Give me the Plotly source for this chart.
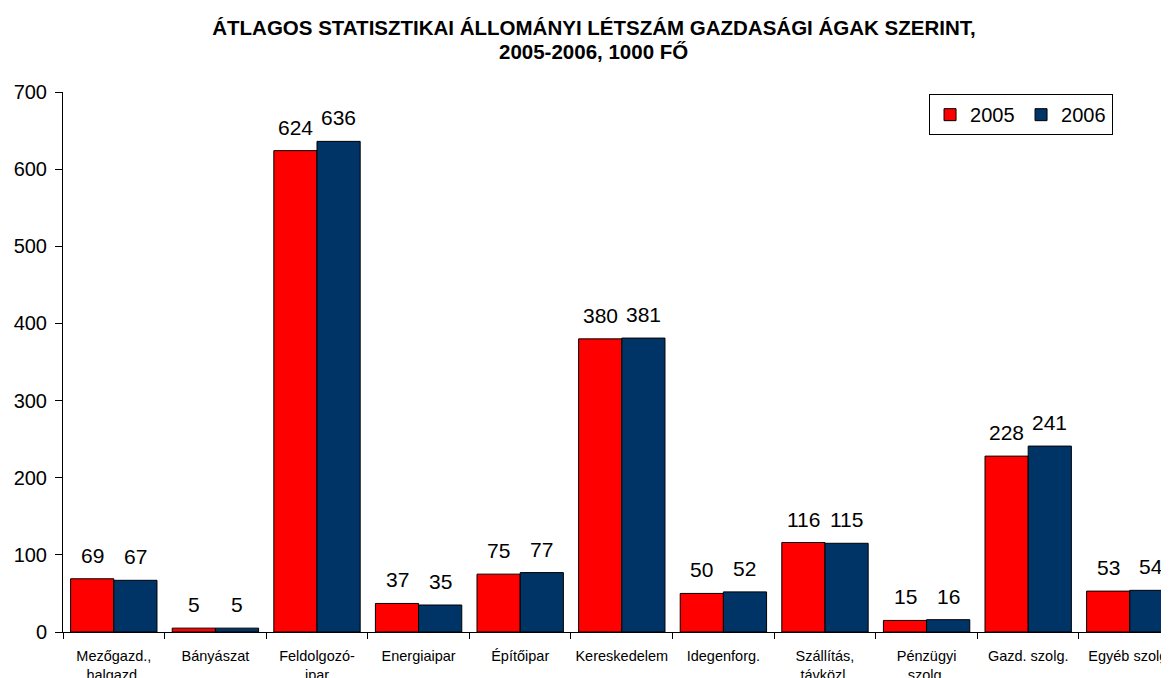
import plotly.graph_objects as go

categories = ["Mezőgazd.,<br>halgazd.", "Bányászat", "Feldolgozó-<br>ipar", "Energiaipar",
              "Építőipar", "Kereskedelem", "Idegenforg.", "Szállítás,<br>távközl.",
              "Pénzügyi<br>szolg.", "Gazd. szolg.", "Egyéb szolg."]
v2005 = [69, 5, 624, 37, 75, 380, 50, 116, 15, 228, 53]
v2006 = [67, 5, 636, 35, 77, 381, 52, 115, 16, 241, 54]
yticks = [0, 100, 200, 300, 400, 500, 600, 700]
series = [("2005", v2005, "#FF0000"), ("2006", v2006, "#003366")]
title_line1 = "ÁTLAGOS STATISZTIKAI ÁLLOMÁNYI LÉTSZÁM GAZDASÁGI ÁGAK SZERINT,"
title_line2 = "2005-2006, 1000 FŐ"

FONT = "Liberation Sans, Arial, sans-serif"
BARGAP = 0.15
PLOT_W = 1106
X_RANGE = [-0.5, 10.386]
cat_px = PLOT_W / (X_RANGE[1] - X_RANGE[0])
bar_px = cat_px * (1 - BARGAP) / 2

fig = go.Figure()
for name, vals, col in series:
    fig.add_trace(go.Bar(name=name, x=categories, y=vals,
                         marker=dict(color=col, line=dict(color="black", width=1))))

annotations = []
for i, (name, vals, col) in enumerate(series):
    shift = (i - 0.5) * bar_px
    for c, v in zip(categories, vals):
        annotations.append(dict(x=c, y=v, xref="x", yref="y", text=str(v), showarrow=False,
                                xanchor="center", yanchor="bottom", xshift=shift, yshift=10,
                                font=dict(size=21, family=FONT, color="black")))

annotations.append(dict(x=0.4797, y=1.0759, xref="paper", yref="paper", text="<b>" + title_line2 + "</b>",
                        showarrow=False, xanchor="center", yanchor="middle",
                        font=dict(size=20.5, family=FONT, color="black")))

fig.update_layout(
    width=1161, height=670,
    paper_bgcolor="white", plot_bgcolor="white",
    font=dict(family=FONT, color="black"),
    barmode="group", bargap=BARGAP, bargroupgap=0,
    margin=dict(l=55, r=0, t=84, b=46, autoexpand=False),
    title=dict(text="<b>" + title_line1 + "</b>",
               x=0.5047, xref="container", xanchor="center", y=1 - 12.5 / 670, yref="container", yanchor="top",
               automargin=False,
               font=dict(size=20.5, family=FONT, color="black")),
    showlegend=True,
    legend=dict(orientation="h", x=0.9494, xanchor="right", y=0.996, yanchor="top",
                bordercolor="black", borderwidth=1, bgcolor="white",
                font=dict(size=20, family=FONT, color="black"),
                itemwidth=30, entrywidth=46, tracegroupgap=0),
    annotations=annotations,
    xaxis=dict(range=X_RANGE, showline=True, linecolor="black", linewidth=1, automargin=False,
               ticks="outside", tickson="boundaries", ticklen=6, tickcolor="black",
               ticklabelstandoff=11,
               tickfont=dict(size=14.5, family=FONT, color="black"), showgrid=False, tickangle=0),
    yaxis=dict(range=[0, 700], tickvals=yticks, showline=True, linecolor="black", linewidth=1,
               automargin=False,
               ticks="outside", ticklen=7, tickcolor="black", showgrid=False, zeroline=False,
               ticklabelstandoff=4,
               tickfont=dict(size=20, family=FONT, color="black")),
)

fig.write_html("out.html")
